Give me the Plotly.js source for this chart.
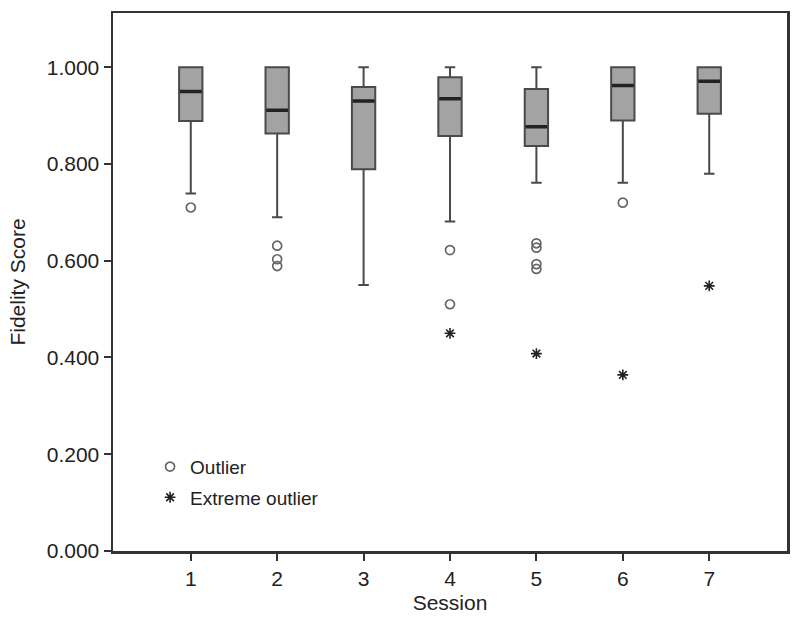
<!DOCTYPE html>
<html>
<head>
<meta charset="utf-8">
<script src="https://cdn.plot.ly/plotly-3.0.1.min.js"></script>
<style>html,body{margin:0;padding:0;background:#fff;}#chart{width:800px;height:622px;}</style>
</head>
<body>
<div id="chart"></div>
<script>
// Data
const sessions = [1, 2, 3, 4, 5, 6, 7];
const lowerFence = [0.739, 0.690, 0.550, 0.681, 0.761, 0.761, 0.780];
const q1Values   = [0.889, 0.863, 0.789, 0.858, 0.837, 0.890, 0.904];
const medians    = [0.950, 0.911, 0.930, 0.935, 0.877, 0.962, 0.971];
const q3Values   = [1.000, 1.000, 0.959, 0.979, 0.955, 1.000, 1.000];
const upperFence = [1.000, 1.000, 1.000, 1.000, 1.000, 1.000, 1.000];

const outlierSessions = [1, 2, 2, 2, 4, 4, 5, 5, 5, 5, 6];
const outlierValues   = [0.710, 0.631, 0.603, 0.589, 0.622, 0.510, 0.636, 0.627, 0.593, 0.583, 0.720];

const extremeSessions = [4, 5, 6, 7];
const extremeValues   = [0.450, 0.408, 0.364, 0.548];

const yTicks = [0, 0.2, 0.4, 0.6, 0.8, 1.0];

const font = 'Liberation Sans, Arial, sans-serif';

const traces = [
  {
    type: 'box',
    x: sessions,
    q1: q1Values,
    median: medians,
    q3: q3Values,
    lowerfence: lowerFence,
    upperfence: upperFence,
    width: 0.27,
    whiskerwidth: 0.45,
    fillcolor: '#a3a3a3',
    line: {color: '#4a4a4a', width: 2},
    showlegend: false,
    hoverinfo: 'skip'
  },
  {
    // thick dark median bar drawn over each box
    type: 'box',
    x: sessions,
    q1: medians,
    median: medians,
    q3: medians,
    lowerfence: medians,
    upperfence: medians,
    width: 0.25,
    whiskerwidth: 0,
    fillcolor: 'rgba(0,0,0,0)',
    line: {color: '#222', width: 3.5},
    showlegend: false,
    hoverinfo: 'skip'
  },
  {
    type: 'scatter',
    mode: 'markers',
    name: 'Outlier',
    legendgroup: 'a',
    x: outlierSessions,
    y: outlierValues,
    marker: {symbol: 'circle-open', size: 9, color: '#666', line: {width: 1.7}}
  },
  {
    type: 'scatter',
    mode: 'markers',
    name: 'Extreme outlier',
    legendgroup: 'b',
    x: extremeSessions,
    y: extremeValues,
    marker: {symbol: 'asterisk-open', size: 9, color: '#222', line: {width: 1.6, color: '#222'}}
  }
];

const layout = {
  width: 800,
  height: 622,
  margin: {l: 113, r: 13, t: 13, b: 71},
  paper_bgcolor: '#fff',
  plot_bgcolor: '#fff',
  font: {family: font, color: '#222', size: 21},
  showlegend: true,
  legend: {
    x: 0.055, y: 0.192, xanchor: 'left', yanchor: 'top',
    bgcolor: 'rgba(0,0,0,0)',
    font: {family: font, size: 19, color: '#222'},
    traceorder: 'grouped',
    tracegroupgap: 3,
    itemwidth: 30
  },
  xaxis: {
    range: [0.1, 7.9],
    tickvals: sessions,
    ticktext: sessions.map(String),
    ticks: 'outside',
    ticklen: 7,
    tickwidth: 2,
    tickcolor: '#333',
    showline: true,
    mirror: true,
    linecolor: '#333',
    linewidth: 2.5,
    showgrid: false,
    zeroline: false,
    tickfont: {family: font, size: 21, color: '#222'},
    title: {text: 'Session', font: {family: font, size: 21, color: '#222'}, standoff: 7}
  },
  yaxis: {
    range: [0, 1.112],
    tickvals: yTicks,
    tickformat: '.3f',
    ticks: 'outside',
    ticklen: 7,
    tickwidth: 2,
    tickcolor: '#333',
    showline: true,
    mirror: true,
    linecolor: '#333',
    linewidth: 2.5,
    showgrid: false,
    zeroline: false,
    tickfont: {family: font, size: 21, color: '#222'},
    title: {text: 'Fidelity Score', font: {family: font, size: 21, color: '#222'}, standoff: 16}
  }
};

Plotly.newPlot('chart', traces, layout, {displayModeBar: false, staticPlot: true});
</script>
</body>
</html>
